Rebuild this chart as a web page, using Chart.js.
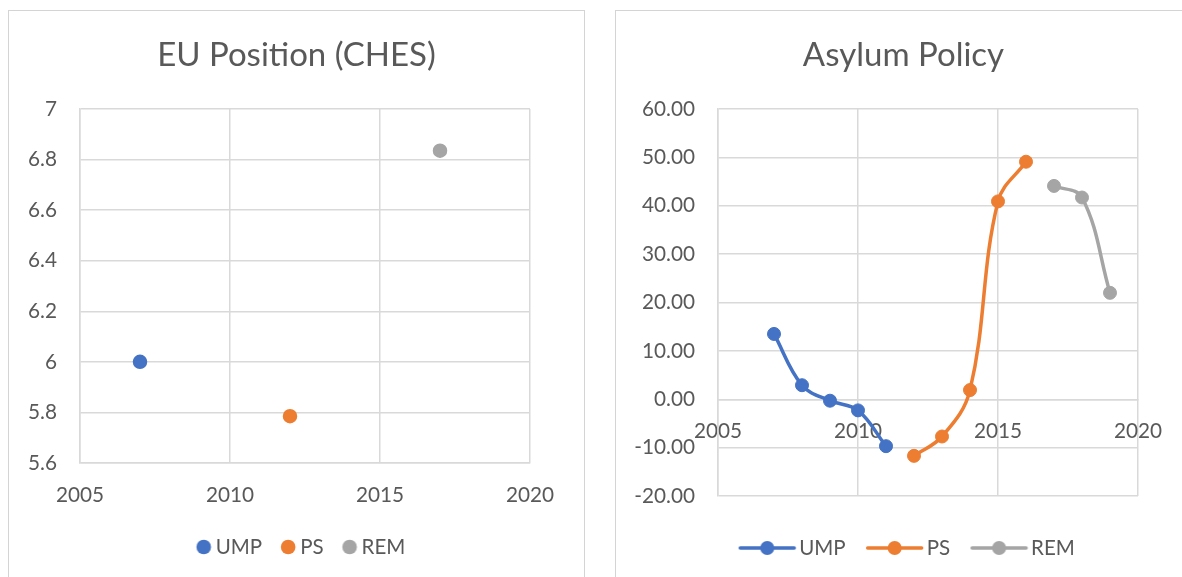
<!DOCTYPE html>
<html>
<head>
<meta charset="utf-8">
<script src="https://cdn.jsdelivr.net/npm/chart.js@4"></script>
<style>
  html, body { margin: 0; padding: 0; background: #fff; width: 1182px; height: 577px; overflow: hidden; position: relative; }
  .panel { position: absolute; top: 10px; width: 577px; height: 640px; border: 1px solid #d4d4d4; box-sizing: border-box; }
  canvas { position: absolute; top: 0; }
</style>
</head>
<body>
<div class="panel" style="left:8px"></div>
<div class="panel" style="left:615px"></div>
<canvas id="c1" width="600" height="577" style="left:0px"></canvas>
<canvas id="c2" width="582" height="577" style="left:600px"></canvas>
<script>
// ---------------- data ----------------
const xTickValues = [2005, 2010, 2015, 2020];
const euTickValues = [5.6, 5.8, 6.0, 6.2, 6.4, 6.6, 6.8, 7.0];
const asylumTickValues = [-20, -10, 0, 10, 20, 30, 40, 50, 60];
const partyNames = ['UMP', 'PS', 'REM'];

const euUMPYears = [2007];
const euUMP = [6.0];
const euPSYears = [2012];
const euPS = [5.785];
const euREMYears = [2017];
const euREM = [6.835];

const asyUMPYears = [2007, 2008, 2009, 2010, 2011];
const asyUMP = [13.5, 2.9, -0.3, -2.3, -9.7];
const asyPSYears = [2012, 2013, 2014, 2015, 2016];
const asyPS = [-11.7, -7.7, 1.9, 40.9, 49.1];
const asyREMYears = [2017, 2018, 2019];
const asyREM = [44.1, 41.7, 22.0];

// ---------------- styles ----------------
const BLUE = '#4472C4', ORANGE = '#ED7D31', GRAY = '#A5A5A5';
const TEXT = '#595959', GRID = '#d9d9d9';
const FONT = "Lato, 'Noto Sans', sans-serif";

function fitSize(text, target) {
  const g = document.createElement('canvas').getContext('2d');
  g.font = 'normal 100px ' + FONT;
  return Math.round(100 * target / g.measureText(text).width * 4) / 4;
}
const titleSize = fitSize('EU Position (CHES)', 279);
const tickSize = fitSize('2005', 48);
const legendSize = fitSize('UMP', 46.5);

Chart.defaults.font.family = FONT;
Chart.defaults.color = TEXT;

const toXY = (xs, ys) => xs.map((x, i) => ({x, y: ys[i]}));

function makeIcon(color, off, withLine) {
  const ext = withLine ? 27 : 7.5;
  const half = Math.ceil(Math.abs(off) + ext + 3);
  const c = document.createElement('canvas');
  c.width = half * 2; c.height = 20;
  const g = c.getContext('2d');
  const cx = half + off;
  if (withLine) {
    g.strokeStyle = color; g.lineWidth = 3.5; g.lineCap = 'round';
    g.beginPath(); g.moveTo(cx - ext, 10); g.lineTo(cx + ext, 10); g.stroke();
  }
  g.fillStyle = color;
  g.beginPath(); g.arc(cx, 10, withLine ? 7 : 7.3, 0, Math.PI * 2); g.fill();
  return c;
}

function titleOpts(text) {
  const top = 55 - 0.6 * titleSize;
  return {
    display: true, text: text, color: TEXT,
    font: {size: titleSize, weight: 'normal'},
    padding: {top: top, bottom: 109 - 1.2 * titleSize - top}
  };
}

function gridOpts() {
  return {color: GRID, lineWidth: 1.5, drawTicks: false};
}

function spacer(width) {
  return {
    type: 'linear', position: 'right', display: true,
    grid: {display: false, drawTicks: false}, border: {display: false},
    ticks: {display: false},
    afterFit: s => { s.width = width; }
  };
}

// ---------------- chart 1: EU Position ----------------
(function () {
  const chartBottom = 463;
  const legendPad = 10;
  const legendCenter = 547;
  const hX = legendCenter - chartBottom - legendPad - legendSize / 2;
  const pB = 577 - (chartBottom + hX + legendSize + legendPad + 10);
  const B = 28 - legendSize / 2;
  const off = B / 2 + legendSize / 2 - 12;
  const icons = [BLUE, ORANGE, GRAY].map(c => makeIcon(c, off, false));
  const mk = (label, xs, ys, color) => ({
    label, data: toXY(xs, ys), backgroundColor: color, borderColor: color,
    pointRadius: 6.5, pointBorderWidth: 1.5, pointHoverRadius: 6.5
  });
  new Chart(document.getElementById('c1'), {
    type: 'scatter',
    data: {
      datasets: [
        mk(partyNames[0], euUMPYears, euUMP, BLUE),
        mk(partyNames[1], euPSYears, euPS, ORANGE),
        mk(partyNames[2], euREMYears, euREM, GRAY)
      ]
    },
    options: {
      responsive: false, animation: false, events: [],
      layout: {padding: {left: 20, right: 27, top: 0, bottom: pB}},
      scales: {
        x: {
          type: 'linear', position: 'bottom', min: 2005, max: 2020,
          afterBuildTicks: s => { s.ticks = xTickValues.map(v => ({value: v})); },
          afterFit: s => { s.height = hX; },
          grid: gridOpts(), border: {color: GRID, width: 1.5},
          ticks: {font: {size: tickSize}, color: TEXT, padding: 32 - 0.6 * tickSize, callback: v => String(v), maxRotation: 0}
        },
        y: {
          type: 'linear', position: 'left', min: 5.6, max: 7.0,
          afterBuildTicks: s => { s.ticks = euTickValues.map(v => ({value: v})); },
          afterFit: s => { s.width = 60; },
          grid: gridOpts(), border: {color: GRID, width: 1.5},
          ticks: {font: {size: tickSize}, color: TEXT, padding: 23, callback: v => String(+(+v).toFixed(1))}
        },
        ySpacer: spacer(43)
      },
      plugins: {
        title: titleOpts('EU Position (CHES)'),
        tooltip: {enabled: false},
        legend: {
          position: 'bottom',
          labels: {
            usePointStyle: true, pointStyleWidth: B, padding: legendPad,
            font: {size: legendSize}, color: TEXT,
            generateLabels: chart => {
              const items = Chart.defaults.plugins.legend.labels.generateLabels(chart);
              items.forEach((it, i) => { it.pointStyle = icons[i]; });
              return items;
            }
          }
        }
      }
    }
  });
})();

// ---------------- chart 2: Asylum Policy ----------------
(function () {
  const chartBottom = 496;
  const legendPad = 14;
  const legendCenter = 548;
  const titleH = legendCenter - chartBottom - legendPad - legendSize / 2;
  const spacerFont = 10;
  const legendH = titleH + legendSize + legendPad + 10;
  const pB = 577 - (chartBottom + legendH);
  const B = 67 - legendSize / 2;
  const off = B / 2 + legendSize / 2 - 32;
  const icons = [BLUE, ORANGE, GRAY].map(c => makeIcon(c, off, true));
  const mk = (label, xs, ys, color) => ({
    label, data: toXY(xs, ys), backgroundColor: color, borderColor: color,
    showLine: true, borderWidth: 3.5, tension: 0.38,
    pointRadius: 6.5, pointBorderWidth: 1, pointHoverRadius: 6.5
  });
  new Chart(document.getElementById('c2'), {
    type: 'scatter',
    data: {
      datasets: [
        mk(partyNames[0], asyUMPYears, asyUMP, BLUE),
        mk(partyNames[1], asyPSYears, asyPS, ORANGE),
        mk(partyNames[2], asyREMYears, asyREM, GRAY)
      ]
    },
    options: {
      responsive: false, animation: false, events: [],
      layout: {padding: {left: 25, right: 0, top: 0, bottom: pB}},
      scales: {
        x: {
          type: 'linear', position: {y: 0}, min: 2005, max: 2020,
          afterBuildTicks: s => { s.ticks = xTickValues.map(v => ({value: v})); },
          afterFit: s => { s.height = 0; },
          grid: gridOpts(), border: {color: GRID, width: 1.5},
          ticks: {font: {size: tickSize}, color: TEXT, padding: 32 - 0.6 * tickSize, callback: v => String(v), maxRotation: 0}
        },
        y: {
          type: 'linear', position: 'left', min: -20, max: 60,
          afterBuildTicks: s => { s.ticks = asylumTickValues.map(v => ({value: v})); },
          afterFit: s => { s.width = 93; },
          grid: gridOpts(), border: {color: GRID, width: 1.5},
          ticks: {font: {size: tickSize}, color: TEXT, padding: 23, callback: v => (+v).toFixed(2)}
        },
        ySpacer: spacer(44)
      },
      plugins: {
        title: titleOpts('Asylum Policy'),
        tooltip: {enabled: false},
        legend: {
          position: 'bottom',
          title: {display: true, text: '', font: {size: spacerFont}, padding: {top: titleH - spacerFont * 1.2, bottom: 0}},
          labels: {
            usePointStyle: true, pointStyleWidth: B, padding: legendPad,
            font: {size: legendSize}, color: TEXT,
            generateLabels: chart => {
              const items = Chart.defaults.plugins.legend.labels.generateLabels(chart);
              items.forEach((it, i) => { it.pointStyle = icons[i]; });
              return items;
            }
          }
        }
      }
    }
  });
})();
</script>
</body>
</html>
